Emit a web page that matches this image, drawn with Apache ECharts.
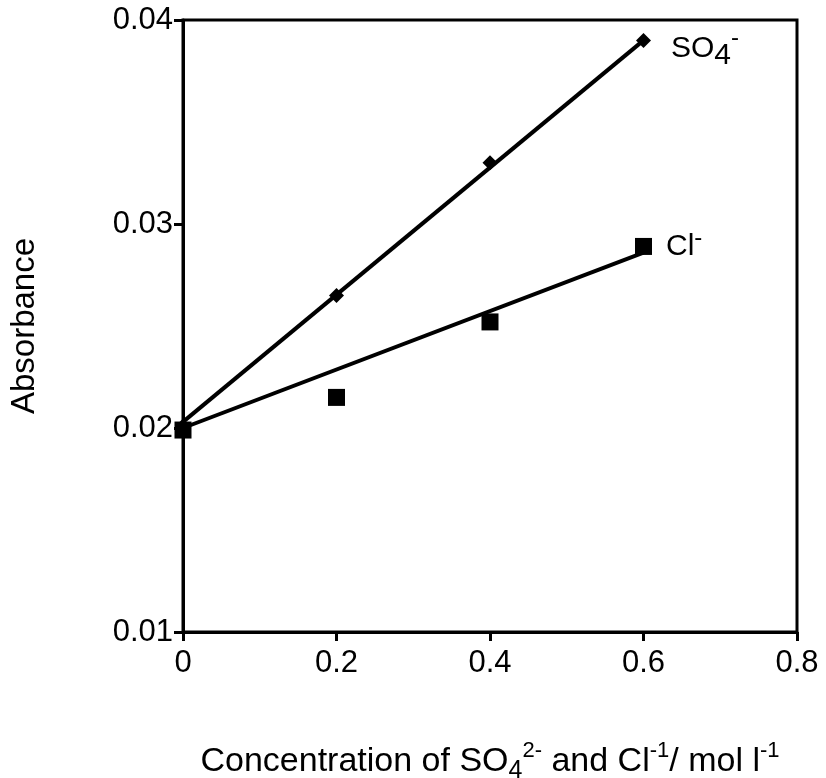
<!DOCTYPE html>
<html>
<head>
<meta charset="utf-8">
<script src="https://cdn.jsdelivr.net/npm/echarts@6/dist/echarts.min.js"></script>
<style>
  html, body { margin: 0; padding: 0; background: #fff; }
  #chart { width: 826px; height: 778px; }
</style>
</head>
<body>
<div id="chart"></div>
<script>
// measured points
const conc = [0, 0.2, 0.4, 0.6]
const so4Abs = [0.0201, 0.0265, 0.0330, 0.0390]
const clAbs = [0.0199, 0.0215, 0.0252, 0.0289]
// fitted lines
const fitX = [0, 0.6]
const so4Fit = [0.0203, 0.0390]
const clFit = [0.0200, 0.0286]
const yTicks = [0.01, 0.02, 0.03, 0.04]
const xTicks = [0, 0.2, 0.4, 0.6, 0.8]

const font = 'Liberation Sans, Arial, sans-serif'
const pairs = (xs, ys) => xs.map((x, i) => [x, ys[i]])

const chart = echarts.init(document.getElementById('chart'))
const options = {
  animation: false,
  grid: {
    left: 183, top: 20, right: 29, bottom: 146,
    outerBoundsMode: 'none',
    containLabel: false,
    show: true, borderColor: '#000', borderWidth: 3
  },
  xAxis: {
    type: 'value',
    min: xTicks[0],
    max: xTicks[xTicks.length - 1],
    interval: 0.2,
    axisLine: { lineStyle: { color: '#000', width: 3 } },
    axisTick: { length: 9, lineStyle: { color: '#000', width: 3 } },
    splitLine: { show: false },
    axisLabel: {
      color: '#000', fontFamily: font, fontSize: 31, margin: 16,
      formatter: v => (v === 0 ? '0' : v.toFixed(1))
    },
    name: '{m|Concentration of SO}{sub|4}{sup|2-}{m| and Cl}{sup|-1}{m|/ mol l}{sup|-1}',
    nameLocation: 'middle',
    nameGap: 108,
    nameTextStyle: {
      rich: {
        m: { fontFamily: font, fontSize: 34, color: '#000', lineHeight: 44 },
        sub: { fontFamily: font, fontSize: 25, color: '#000', verticalAlign: 'bottom', lineHeight: 26 },
        sup: { fontFamily: font, fontSize: 22, color: '#000', verticalAlign: 'top', lineHeight: 22 }
      }
    }
  },
  yAxis: {
    type: 'value',
    min: yTicks[0],
    max: yTicks[yTicks.length - 1],
    interval: 0.01,
    axisLine: { show: true, lineStyle: { color: '#000', width: 3 } },
    axisTick: { show: true, length: 9, lineStyle: { color: '#000', width: 3 } },
    splitLine: { show: false },
    axisLabel: {
      color: '#000', fontFamily: font, fontSize: 31, margin: 10,
      formatter: v => v.toFixed(2)
    },
    name: 'Absorbance',
    nameLocation: 'middle',
    nameGap: 142,
    nameTextStyle: { color: '#000', fontFamily: font, fontSize: 33 }
  },
  series: [
    {
      name: 'SO4 fit', type: 'line', data: pairs(fitX, so4Fit),
      symbol: 'none', lineStyle: { color: '#000', width: 4 }, z: 2
    },
    {
      name: 'Cl fit', type: 'line', data: pairs(fitX, clFit),
      symbol: 'none', lineStyle: { color: '#000', width: 4 }, z: 2
    },
    {
      name: 'SO4', type: 'scatter', data: pairs(conc, so4Abs),
      symbol: 'diamond', symbolSize: 15, itemStyle: { color: '#000', opacity: 1 }, z: 3,
      label: {
        show: true, position: 'right', distance: 20, offset: [0, 8],
        formatter: p => (p.dataIndex === conc.length - 1 ? '{m|SO}{sub|4}{sup|-}' : ''),
        rich: {
          m: { fontFamily: font, fontSize: 30, color: '#000', lineHeight: 44 },
          sub: { fontFamily: font, fontSize: 30, color: '#000', verticalAlign: 'bottom', lineHeight: 30 },
          sup: { fontFamily: font, fontSize: 24, color: '#000', verticalAlign: 'top', lineHeight: 20 }
        }
      }
    },
    {
      name: 'Cl', type: 'scatter', data: pairs(conc, clAbs),
      symbol: 'rect', symbolSize: 17, itemStyle: { color: '#000', opacity: 1 }, z: 4,
      label: {
        show: true, position: 'right', distance: 14,
        formatter: p => (p.dataIndex === conc.length - 1 ? '{m|Cl}{sup|-}' : ''),
        rich: {
          m: { fontFamily: font, fontSize: 30, color: '#000', lineHeight: 40 },
          sup: { fontFamily: font, fontSize: 24, color: '#000', verticalAlign: 'top', lineHeight: 20 }
        }
      }
    }
  ]
}
chart.setOption(options)
</script>
</body>
</html>
